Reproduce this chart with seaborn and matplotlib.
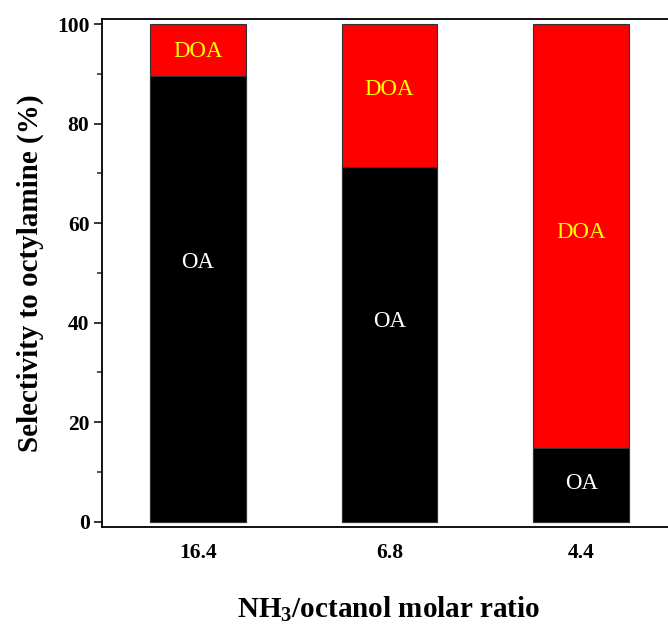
import matplotlib
matplotlib.use("Agg")
import matplotlib.pyplot as plt
from matplotlib.ticker import MultipleLocator
import seaborn as sns
import pandas as pd

ratios = ["16.4", "6.8", "4.4"]
oa_values = [89.6, 71.3, 14.9]
doa_values = [10.4, 28.7, 85.1]
oa_label_y = [52.0, 40.3, 7.6]
doa_label_y = [94.5, 86.9, 58.2]

sns.set_theme(style="white")
plt.rcParams["font.family"] = ["Liberation Serif", "DejaVu Serif"]
plt.rcParams["mathtext.fontset"] = "custom"
plt.rcParams["mathtext.rm"] = "Liberation Serif:bold"
plt.rcParams["mathtext.it"] = "Liberation Serif:bold"
plt.rcParams["mathtext.bf"] = "Liberation Serif:bold"

df = pd.DataFrame({
    "ratio": ratios,
    "OA": oa_values,
    "total": [o + d for o, d in zip(oa_values, doa_values)],
})

fig = plt.figure(figsize=(6.68, 6.28), dpi=100)
ax = fig.add_axes([102 / 668, (628 - 526.7) / 628, 575 / 668, (526.7 - 19.3) / 628])

sns.barplot(data=df, x="ratio", y="total", order=ratios, color="#ff0000",
            saturation=1, width=0.5, edgecolor="#333333", linewidth=0.8, ax=ax)
sns.barplot(data=df, x="ratio", y="OA", order=ratios, color="#000000",
            saturation=1, width=0.5, edgecolor="#333333", linewidth=0.8, ax=ax)

for i in range(len(ratios)):
    ax.text(i, oa_label_y[i], "OA", color="white", ha="center", va="center",
            fontsize=16.5)
    ax.text(i, doa_label_y[i], "DOA", color="#ffff00", ha="center", va="center",
            fontsize=16.5)

ax.set_xlim(-0.5, 2.5)
ax.set_ylim(-1.0, 100.95)
ax.yaxis.set_major_locator(MultipleLocator(20))
ax.yaxis.set_minor_locator(MultipleLocator(10))
ax.tick_params(axis="y", which="major", direction="out", length=6, width=1.1,
               left=True, pad=3, labelsize=15.5, colors="black")
ax.tick_params(axis="y", which="minor", direction="out", length=3.5, width=1.1,
               left=True)
ax.tick_params(axis="x", which="both", bottom=False, length=0, pad=12,
               labelsize=15.5, colors="black")
for lab in ax.get_xticklabels() + ax.get_yticklabels():
    lab.set_fontweight("bold")

for side in ["left", "bottom", "top", "right"]:
    ax.spines[side].set_visible(True)
    ax.spines[side].set_color("black")
    ax.spines[side].set_linewidth(1.3)

ax.set_ylabel("Selectivity to octylamine (%)", fontsize=21, fontweight="bold",
              color="black", labelpad=9)
ax.set_xlabel(r"NH$_\mathregular{3}$/octanol molar ratio", fontsize=21,
              fontweight="bold", color="black", labelpad=30)
ax.xaxis.set_label_coords((389 - 102) / 575, -(609 - 526.7) / 507.4)
ax.xaxis.label.set_va("center")
ax.grid(False)

fig.savefig("out.png", dpi=100)
